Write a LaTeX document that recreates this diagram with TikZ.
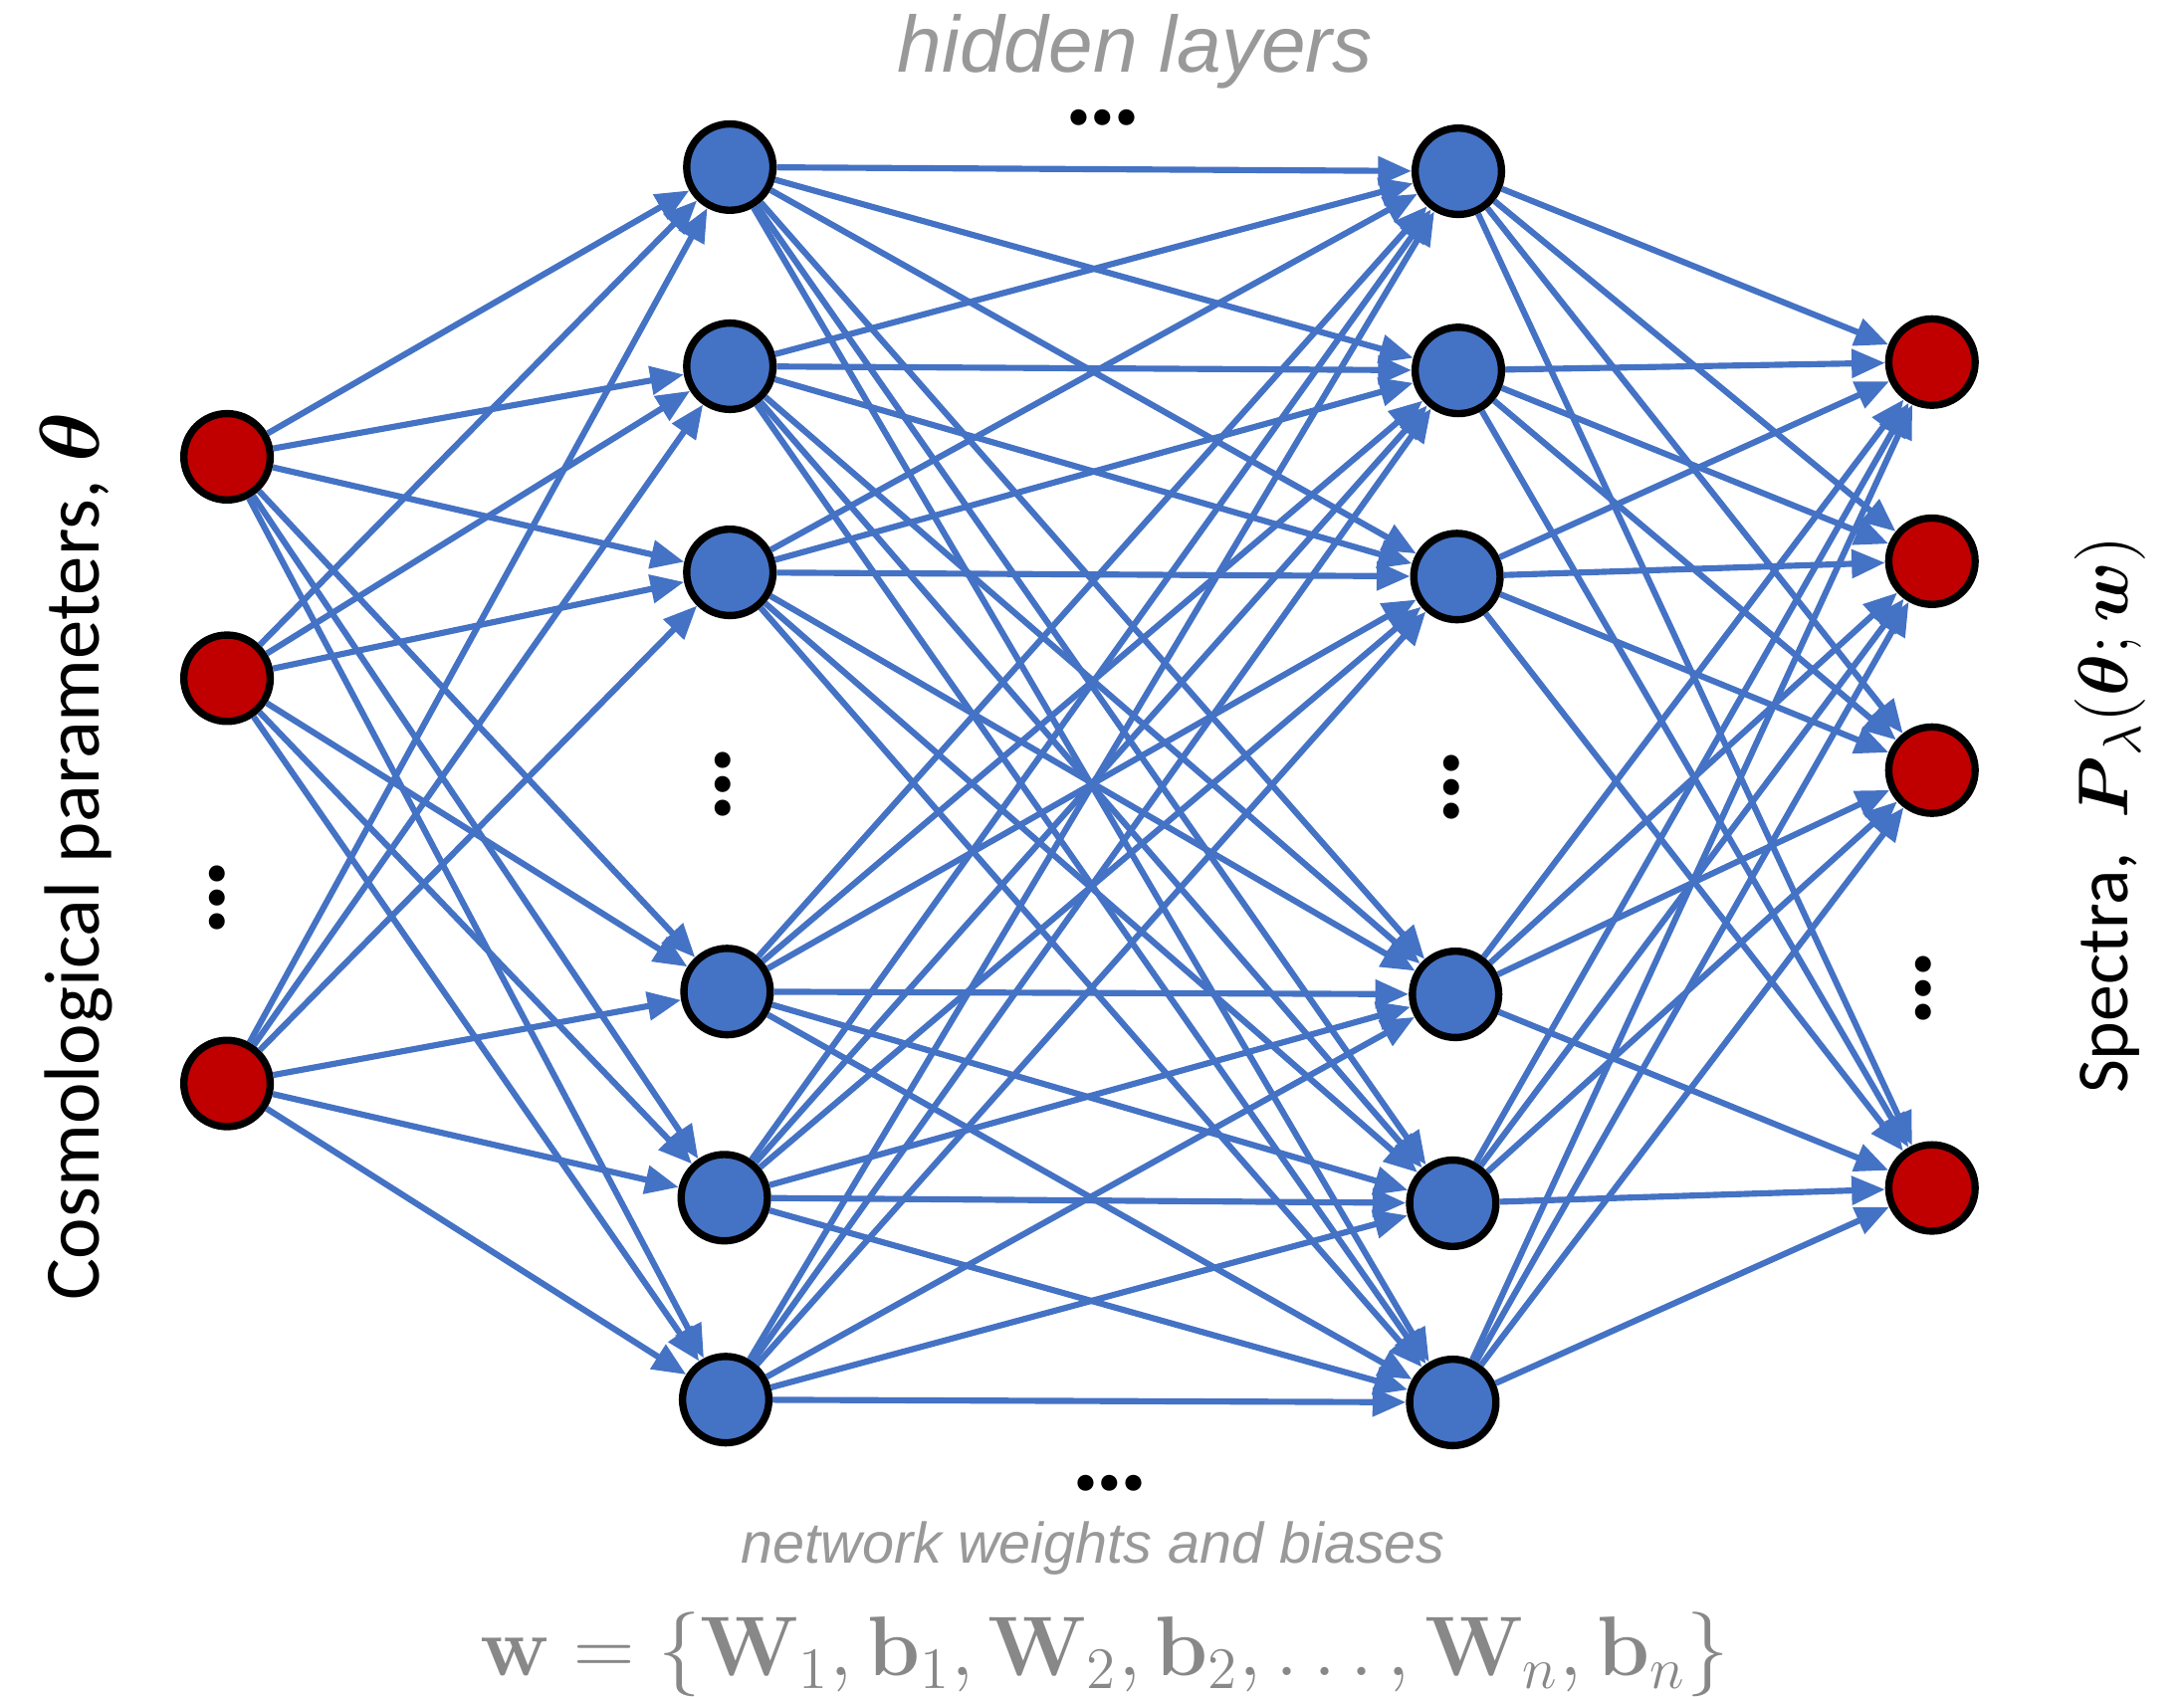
\documentclass[tikz,border=0pt]{standalone}
\usepackage{amsmath}
\usepackage[no-math]{fontspec}
\setmainfont{Carlito}
\newfontfamily\helvfont{Liberation Sans}
\usetikzlibrary{arrows.meta}
\definecolor{nnblue}{HTML}{4472C4}
\definecolor{nnred}{HTML}{C00000}
\definecolor{capgray}{HTML}{999999}
\definecolor{eqgray}{HTML}{888888}
\tikzset{
  neuron/.style ={circle, draw=black, line width=1.5pt, minimum size=0.62cm, inner sep=0pt},
  innode/.style ={neuron, fill=nnred},
  hidnode/.style={neuron, fill=nnblue},
  outnode/.style={neuron, fill=nnred},
  wire/.style   ={-{Triangle[length=2.4mm, width=2mm]}, draw=nnblue, fill=nnblue, line width=1.25pt},
  dotsv/.style  ={font=\fontsize{22}{22}\selectfont\bfseries, rotate=90, inner sep=0pt,
                  text height=0.25em, text depth=0pt},
  dotsh/.style  ={font=\fontsize{22}{22}\selectfont\bfseries, inner sep=0pt,
                  text height=0.25em, text depth=0pt},
  sidelbl/.style={font=\fontsize{16}{19}\selectfont, rotate=90, inner sep=1pt},
}
\begin{document}
\begin{tikzpicture}
  \useasboundingbox (0,0) rectangle (15.68,12.18);
  % input layer
  \node[innode] (i1) at (1.63,8.90) {};
  \node[innode] (i2) at (1.63,7.31) {};
  \node[innode] (i3) at (1.63,4.40) {};
  \node[dotsv]  (id) at (1.57,5.73) {…};

  % first hidden layer
  \node[hidnode] (a1) at (5.24,10.98) {};
  \node[hidnode] (a2) at (5.24,9.55) {};
  \node[hidnode] (a3) at (5.24,8.07) {};
  \node[hidnode] (a4) at (5.22,5.06) {};
  \node[hidnode] (a5) at (5.20,3.58) {};
  \node[hidnode] (a6) at (5.21,2.13) {};
  \node[dotsv]   (ad) at (5.20,6.55) {…};

  % last hidden layer
  \node[hidnode] (b1) at (10.47,10.95) {};
  \node[hidnode] (b2) at (10.47,9.52) {};
  \node[hidnode] (b3) at (10.46,8.04) {};
  \node[hidnode] (b4) at (10.45,5.04) {};
  \node[hidnode] (b5) at (10.43,3.54) {};
  \node[hidnode] (b6) at (10.43,2.11) {};
  \node[dotsv]   (bd) at (10.43,6.53) {…};

  % output layer
  \node[outnode] (o1) at (13.87,9.58) {};
  \node[outnode] (o2) at (13.87,8.15) {};
  \node[outnode] (o3) at (13.87,6.65) {};
  \node[outnode] (o4) at (13.87,3.65) {};
  \node[dotsv]   (od) at (13.82,5.08) {…};

  % weights
  \foreach \s in {1,2,3} \foreach \t in {1,...,6} \draw[wire] (i\s) -- (a\t);
  \foreach \s in {1,...,6} \foreach \t in {1,...,6} \draw[wire] (a\s) -- (b\t);
  \foreach \s in {1,...,6} \foreach \t in {1,...,4} \draw[wire] (b\s) -- (o\t);

  % labels
  \node[dotsh] (topdots) at (7.92,11.33) {…};
  \node[dotsh] (botdots) at (7.97,1.52) {…};
  \node[font=\helvfont\itshape\fontsize{16.3}{18}\selectfont, text=capgray, inner sep=0pt,
        text depth=0pt] (hid) at (8.15,11.87) {hidden layers};
  \node[font=\helvfont\itshape\fontsize{11.7}{14}\selectfont, text=capgray, inner sep=0pt] (nwb) at (7.85,1.06) {network weights and biases};
  \node[font=\fontsize{16.6}{20}\selectfont, text=eqgray, inner sep=0pt] (weq) at (7.93,0.30)
    {$\mathbf{w}=\{\mathbf{W}_1,\mathbf{b}_1,\mathbf{W}_2,\mathbf{b}_2,\ldots,\mathbf{W}_n,\mathbf{b}_n\}$};
  \node[sidelbl] (inlbl) at (0.55,6.03) {Cosmological parameters, $\boldsymbol{\theta}$};
  \node[sidelbl, font=\fontsize{15}{18}\selectfont] (outlbl) at (15.15,6.33) {Spectra,~ $\boldsymbol{P}_{\lambda}(\boldsymbol{\theta};\boldsymbol{w})$};
\end{tikzpicture}
\end{document}
